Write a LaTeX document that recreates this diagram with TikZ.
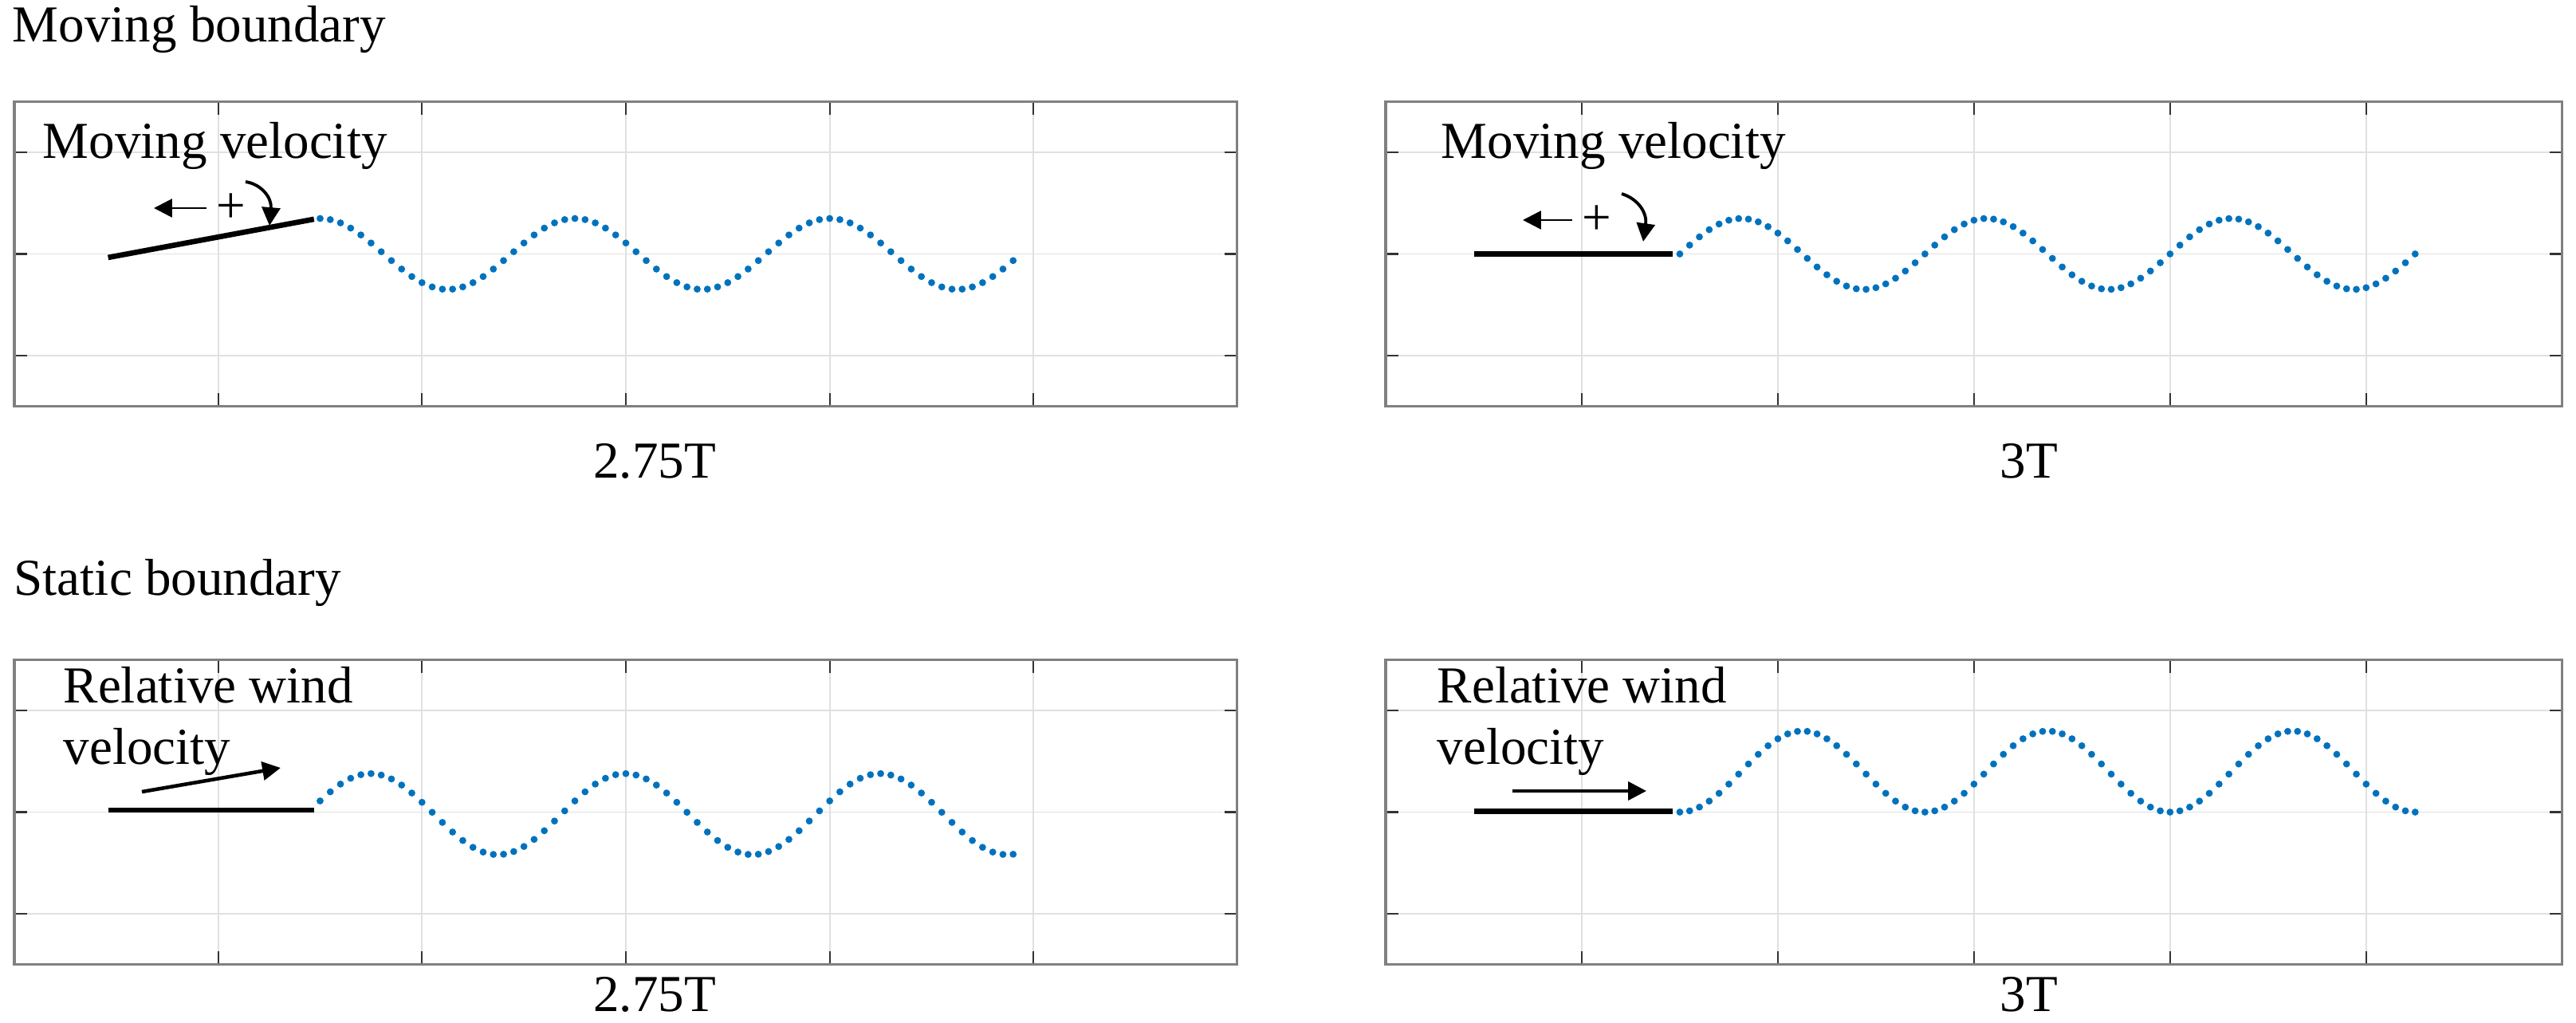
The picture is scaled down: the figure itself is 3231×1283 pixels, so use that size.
\documentclass[tikz,border=0pt]{standalone}
\usepackage{fontspec}
\setmainfont{Liberation Serif}
\usetikzlibrary{arrows.meta,positioning}

\definecolor{waveblue}{RGB}{0,114,189}

\begin{document}
\begin{tikzpicture}[x=0.01cm, y=-0.01cm]
      \tikzstyle{every node}=[font=\fontsize{18.5}{22}\selectfont, inner sep=0pt]
      \tikzstyle{grid line}=[black!12, line width=0.55pt]
      \tikzstyle{axes frame}=[black!50, line width=0.9pt]
      \tikzstyle{tick}=[black!80, line width=0.6pt]
      \tikzstyle{plate}=[line width=1.9pt]
      \tikzstyle{wave dot}=[fill=waveblue, draw=none]
      \tikzstyle{arr}=[-{Triangle[length=6.5pt,width=6.5pt]}]
      \tikzset{panel/.style n args={3}{shift={(#1,#2)}, x=#3 cm, y=1.27cm}}
      \useasboundingbox (0,0) rectangle (3231,1283);

      % axes boxes with grid
      \foreach \px/\py/\dx in {18/318.5/2.555, 1738/318.5/2.458,
                               18/1018.5/2.555, 1738/1018.5/2.458} {
        \begin{scope}[panel={\px}{\py}{\dx}]
          \foreach \i in {1,...,5} \draw[grid line] (\i,-1.5) -- (\i,1.5);
          \foreach \j in {-1,0,1} \draw[grid line] (0,\j) -- (6,\j);
          \foreach \i in {1,...,5} {
            \draw[tick] (\i,-1.5) -- ++(0,0.126);
            \draw[tick] (\i,1.5) -- ++(0,-0.126);
          }
          \foreach \j in {-1,0,1} {
            \draw[tick] (0,\j) -- ++(0.064,0);
            \draw[tick] (6,\j) -- ++(-0.064,0);
          }
          \draw[axes frame] (0,-1.5) rectangle (6,1.5);
        \end{scope}
      }

      % plates and waves
      \begin{scope}[panel={18}{318.5}{2.555}]
        \draw[plate] (0.46,-0.035) -- (1.47,0.343);
        \foreach \k in {0,...,68}
          \fill[wave dot] (1.5+0.05*\k, {0.35*cos(14.4*\k)}) circle (1.25pt);
      \end{scope}
      \begin{scope}[panel={1738}{318.5}{2.458}]
        \draw[plate] (0.452,0) -- (1.462,0);
        \foreach \k in {0,...,75}
          \fill[wave dot] (1.5+0.05*\k, {0.35*sin(14.4*\k)}) circle (1.25pt);
      \end{scope}
      \begin{scope}[panel={18}{1018.5}{2.555}]
        \draw[plate] (0.46,0.02) -- (1.47,0.02);
        \foreach \k in {0,...,68}
          \fill[wave dot] (1.5+0.05*\k, {-0.02+0.4*sin(14.4*\k+19)}) circle (1.25pt);
      \end{scope}
      \begin{scope}[panel={1738}{1018.5}{2.458}]
        \draw[plate] (0.452,0.01) -- (1.462,0.01);
        \foreach \k in {0,...,75}
          \fill[wave dot] (1.5+0.05*\k, {0.4*(1-cos(14.4*\k))}) circle (1.25pt);
      \end{scope}

      % titles and labels
      \node[anchor=base west] (mb) at (15,53) {Moving boundary};
      \node[anchor=base west] (sb) at (17,747) {Static boundary};
      \node[anchor=base west] (mv1) at (53,199) {Moving velocity};
      \node[anchor=base west] (mv2) at (1807,199) {Moving velocity};
      \node[anchor=base west] (rw1) at (79,881) {Relative wind};
      \node[anchor=base west] (rv1) at (79,958) {velocity};
      \node[anchor=base west] (rw2) at (1802,881) {Relative wind};
      \node[anchor=base west] (rv2) at (1802,958) {velocity};
      \node[anchor=base] (tm1) at (821,600) {2.75T};
      \node[anchor=base] (tm2) at (2545,600) {3T};
      \node[anchor=base] (tm3) at (821,1268) {2.75T};
      \node[anchor=base] (tm4) at (2545,1268) {3T};

      % velocity arrows
      \node (plus1) at (290,261) {+};
      \node (plus2) at (2003,276) {+};
      \coordinate (lt1) at (193,261);
      \coordinate (lt2) at (1910,276);
      \draw[arr, line width=0.8pt, shorten <=3.5pt] (plus1) -- (lt1);
      \draw[arr, line width=0.8pt, shorten <=3.5pt] (plus2) -- (lt2);
      \coordinate (cs1) at (308,228);
      \coordinate (ce1) at (338,283);
      \coordinate (cs2) at (2034,243);
      \coordinate (ce2) at (2061,303);
      \draw[arr, line width=1.1pt] (cs1) .. controls (328,231) and (341,248) .. (ce1);
      \draw[arr, line width=1.1pt] (cs2) .. controls (2056,250) and (2066,268) .. (ce2);
      \coordinate (ws1) at (178,993);
      \coordinate (we1) at (352,963);
      \coordinate (ws2) at (1897,992);
      \coordinate (we2) at (2065,992);
      \draw[arr, line width=1.3pt] (ws1) -- (we1);
      \draw[arr, line width=1.2pt] (ws2) -- (we2);
\end{tikzpicture}
\end{document}
